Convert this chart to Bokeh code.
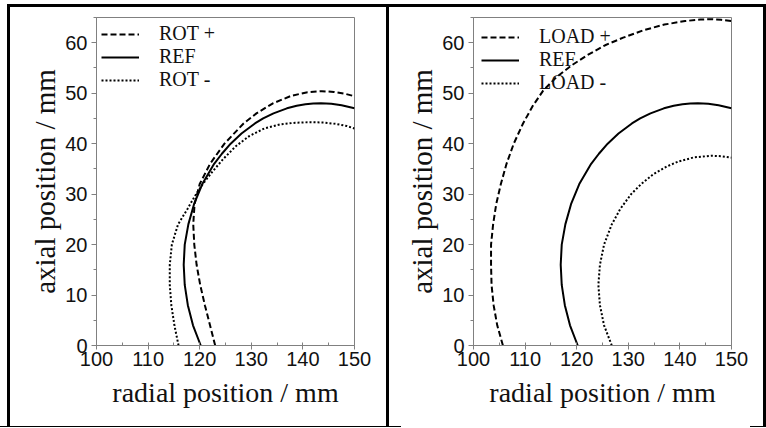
from bokeh.plotting import figure
from bokeh.layouts import row, column
from bokeh.models import Legend, LegendItem, FixedTicker, Range1d, Spacer
from bokeh.embed import file_html
from bokeh.resources import INLINE

# axis ticks (mm)
x_ticks = [100, 110, 120, 130, 140, 150]
x_minor = [100, 105, 110, 115, 120, 125, 130, 135, 140, 145, 150]
y_ticks = [0, 10, 20, 30, 40, 50, 60]
y_minor = [0, 5, 10, 15, 20, 25, 30, 35, 40, 45, 50, 55, 60, 65]

# reference profile: radial (r) and axial (z) position, mm
ref_r = [120.2, 118.7, 117.7, 117.1, 116.9, 117.1, 117.8, 118.9, 120.5, 122.8,
         124.3, 126.0, 128.1, 130.7, 132.3, 134.3, 136.9, 138.8, 140.5, 142.0,
         143.5, 145.5, 147.5, 150.0]
ref_z = [0, 4, 8, 12, 16, 20, 24, 28, 32, 36,
         38, 40, 42, 44, 45, 46, 47, 47.5, 47.8, 47.95,
         48.0, 47.9, 47.6, 47.0]

# increased rotation speed
rotp_r = [123.0, 122.0, 121.0, 120.1, 119.4, 118.95, 118.75, 119.0, 120.0, 122.0,
          124.8, 128.5, 131.0, 134.2, 137.8, 140.9, 143.7, 146.0, 148.0, 150.0]
rotp_z = [0, 4, 8, 12, 16, 20, 24, 28, 32, 36,
          40, 44, 46, 48, 49.5, 50.2, 50.4, 50.26, 49.92, 49.4]

# reduced rotation speed
rotm_r = [115.9, 115.1, 114.5, 114.2, 114.2, 114.6, 115.8, 117.6, 119.0, 120.6,
          122.5, 124.6, 127.0, 129.6, 132.5, 135.5, 138.5, 141.5, 144.0, 146.5,
          148.5, 150.0]
rotm_z = [0, 4, 8, 12, 16, 20, 24, 27, 29.5, 32,
          34.5, 37, 39.5, 41.5, 43.0, 43.8, 44.15, 44.25, 44.2, 43.9,
          43.5, 43.0]

# increased load
loadp_r = [105.7, 104.6, 103.9, 103.5, 103.4, 103.4, 103.8, 104.4, 105.3, 106.4,
           107.8, 109.6, 111.5, 113.5, 116.1, 119.0, 122.0, 125.5, 129.0, 133.0,
           137.0, 141.0, 144.0, 146.2, 148.0, 150.0]
loadp_z = [0, 4, 8, 12, 16, 20, 24, 28, 32, 36,
           40, 44, 47.5, 50.5, 53.2, 55.5, 57.5, 59.5, 61.0, 62.5,
           63.6, 64.3, 64.6, 64.65, 64.55, 64.3]

# reduced load
loadm_r = [126.8, 125.3, 124.5, 124.2, 124.5, 125.3, 126.8, 128.4, 130.55, 132.5,
           134.9, 137.5, 139.8, 142.8, 146.2, 148.0, 150.0]
loadm_z = [0, 4, 8, 12, 16, 20, 24, 27, 30, 32,
           34, 35.5, 36.5, 37.3, 37.6, 37.51, 37.22]

H = 419
SANS = "Liberation Sans"
SERIF = "Liberation Serif"
GREY = "#808080"
INK = "#111111"


def rule(w, h):
    return Spacer(width=w, height=h, styles={"background-color": "black"})


def gap(w, h):
    return Spacer(width=w, height=h)


def panel(width, fl, fr, ft, fb, series, leg_pad):
    p = figure(width=width, height=H, x_range=Range1d(100, 150), y_range=Range1d(0, 65),
               output_backend="svg", toolbar_location=None,
               min_border_left=fl, min_border_right=width - fr,
               min_border_top=ft, min_border_bottom=H - fb)
    p.xgrid.visible = False
    p.ygrid.visible = False
    p.outline_line_color = GREY
    p.outline_line_width = 1
    p.background_fill_color = "white"
    p.border_fill_color = "white"

    p.xaxis.ticker = FixedTicker(ticks=x_ticks, minor_ticks=x_minor)
    p.yaxis.ticker = FixedTicker(ticks=y_ticks, minor_ticks=y_minor)
    p.xaxis.axis_label = "radial position / mm"
    p.yaxis.axis_label = "axial position / mm"
    for ax in (p.xaxis, p.yaxis):
        ax.axis_line_color = GREY
        ax.major_tick_line_color = GREY
        ax.minor_tick_line_color = GREY
        ax.major_label_text_font = SANS
        ax.major_label_text_font_size = "20px"
        ax.major_label_text_color = INK
        ax.axis_label_text_font = SERIF
        ax.axis_label_text_font_style = "normal"
        ax.axis_label_text_color = INK
    p.xaxis.axis_label_text_font_size = "28px"
    p.yaxis.axis_label_text_font_size = "29px"
    p.xaxis.major_tick_out = 4
    p.xaxis.major_tick_in = 0
    p.xaxis.minor_tick_out = 0
    p.xaxis.minor_tick_in = 3
    p.xaxis.major_label_standoff = 2
    p.xaxis.axis_label_standoff = 8
    p.yaxis.major_tick_out = 5
    p.yaxis.major_tick_in = 0
    p.yaxis.minor_tick_out = 3
    p.yaxis.minor_tick_in = 0
    p.yaxis.major_label_standoff = 4
    p.yaxis.axis_label_standoff = 1

    items = []
    for label, xs, ys, dash in series:
        r = p.line(xs, ys, line_color="black", line_width=2, line_dash=dash)
        items.append(LegendItem(label=label, renderers=[r]))
    leg = Legend(items=items, location="top_left", margin=0, padding=leg_pad,
                 glyph_width=38, glyph_height=22, label_height=22,
                 label_standoff=20, spacing=0,
                 label_text_font=SERIF, label_text_font_size="20px",
                 label_text_color=INK,
                 border_line_alpha=0, background_fill_alpha=0)
    p.add_layout(leg)
    return p


left = panel(376, 86, 344, 8, 338,
             [("ROT +", rotp_r, rotp_z, "6 3"),
              ("REF", ref_r, ref_z, "solid"),
              ("ROT -", rotm_r, rotm_z, "2 2")],
             5)

right = panel(374, 84, 342, 10, 341,
              [("LOAD +", loadp_r, loadp_z, "6 3"),
               ("REF", ref_r, ref_z, "solid"),
               ("LOAD -", loadm_r, loadm_z, "2 2")],
              8)

# table rules around and between the two panels
page = column(
    gap(766, 4),
    row(gap(7, 3), rule(759, 3)),
    row(gap(7, H), rule(3, H), left, rule(3, H), right, rule(3, H)),
    row(rule(401, 1), gap(349, 1), rule(16, 1)),
)
open("out.html", "w").write(file_html(page, INLINE))
